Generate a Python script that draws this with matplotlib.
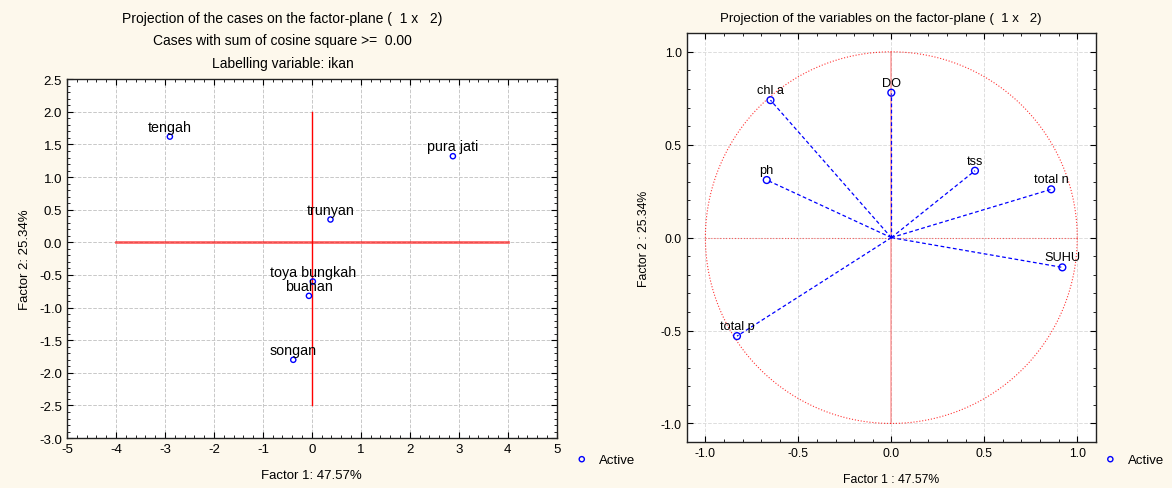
import numpy as np
import matplotlib.pyplot as plt
from matplotlib.ticker import MultipleLocator

plt.rcParams['font.family'] = ['Liberation Sans', 'DejaVu Sans']
plt.rcParams['axes.unicode_minus'] = False

# cases (factor scores)
case_names = ["tengah", "pura jati", "trunyan", "toya bungkah", "buahan", "songan"]
case_f1 = [-2.90, 2.88, 0.38, 0.02, -0.06, -0.38]
case_f2 = [1.62, 1.32, 0.35, -0.60, -0.82, -1.80]

# variables (factor loadings)
var_names = ["chl a", "DO", "ph", "tss", "total n", "SUHU", "total p"]
var_f1 = [-0.65, 0.00, -0.67, 0.45, 0.86, 0.92, -0.83]
var_f2 = [0.74, 0.78, 0.31, 0.36, 0.26, -0.16, -0.53]

bg = "#fdf8ec"
fig = plt.figure(figsize=(11.72, 4.89), dpi=100, facecolor=bg)


def style_axes(ax):
    ax.tick_params(which="both", direction="in", top=True, right=True, labelsize=9.5, length=4)
    ax.tick_params(which="minor", length=2)
    ax.grid(True, which="major", color="#c8c8c8", linestyle="--", linewidth=0.7)
    for s in ax.spines.values():
        s.set_linewidth(1.0)
        s.set_color("#222222")
    ax.set_axisbelow(True)


# ---- left: cases
ax1 = fig.add_axes([0.0572, 0.102, 0.4178, 0.734])
style_axes(ax1)
ax1.plot([-4, 4], [0, 0], color="red", alpha=0.6, linewidth=2, zorder=2)
ax1.plot([0, 0], [-2.5, 2.0], color="red", linewidth=1, zorder=2)
ax1.scatter(case_f1, case_f2, s=14, facecolors="none", edgecolors="blue", linewidths=1, zorder=3)
for name, x, y in zip(case_names, case_f1, case_f2):
    ax1.annotate(name, (x, y), xytext=(0, 2), textcoords="offset points",
                 ha="center", va="bottom", fontsize=10.3, zorder=4)
ax1.set_xlim(-5, 5)
ax1.set_ylim(-3.0, 2.5)
ax1.xaxis.set_major_locator(MultipleLocator(1))
ax1.xaxis.set_minor_locator(MultipleLocator(0.2))
ax1.yaxis.set_major_locator(MultipleLocator(0.5))
ax1.yaxis.set_minor_locator(MultipleLocator(0.1))
ax1.yaxis.set_major_formatter(plt.FormatStrFormatter("%.1f"))
ax1.set_xlabel("Factor 1: 47.57%", fontsize=9.5, labelpad=10)
ax1.set_ylabel("Factor 2: 25.34%", fontsize=9.5, labelpad=6)
ax1.set_title("Projection of the cases on the factor-plane (  1 x   2)\n"
              "Cases with sum of cosine square >=  0.00\n"
              "Labelling variable: ikan", fontsize=10, linespacing=1.75, pad=9,
              x=0.44)

# ---- right: variables
ax2 = fig.add_axes([0.586, 0.094, 0.349, 0.836])
style_axes(ax2)
ax2.grid(True, which="major", color="#dddddd", linestyle="--", linewidth=0.7)
t = np.linspace(0, 2 * np.pi, 400)
ax2.plot(np.cos(t), np.sin(t), color="red", linestyle=":", linewidth=0.8, alpha=0.8, zorder=2)
ax2.plot([-1, 1], [0, 0], color="red", linestyle=":", linewidth=0.8, alpha=0.6, zorder=2)
ax2.plot([0, 0], [-1, 1], color="red", linestyle="-", linewidth=1.2, alpha=0.35, zorder=2)
for x, y in zip(var_f1, var_f2):
    ax2.plot([0, x], [0, y], color="blue", linestyle="--", linewidth=0.9, dashes=(3, 2), zorder=3)
ax2.scatter(var_f1, var_f2, s=24, facecolors="none", edgecolors="blue", linewidths=1, zorder=4)
for name, x, y in zip(var_names, var_f1, var_f2):
    ax2.annotate(name, (x, y), xytext=(0, 3), textcoords="offset points",
                 ha="center", va="bottom", fontsize=9.2, zorder=5)
ax2.set_xlim(-1.1, 1.1)
ax2.set_ylim(-1.1, 1.1)
ax2.xaxis.set_major_locator(MultipleLocator(0.5))
ax2.xaxis.set_minor_locator(MultipleLocator(0.1))
ax2.yaxis.set_major_locator(MultipleLocator(0.5))
ax2.yaxis.set_minor_locator(MultipleLocator(0.1))
ax2.xaxis.set_major_formatter(plt.FormatStrFormatter("%.1f"))
ax2.yaxis.set_major_formatter(plt.FormatStrFormatter("%.1f"))
ax2.tick_params(labelsize=8.8)
ax2.set_xlabel("Factor 1 : 47.57%", fontsize=8.8, labelpad=10)
ax2.set_ylabel("Factor 2 : 25.34%", fontsize=8.8, labelpad=8)
ax2.set_title("Projection of the variables on the factor-plane (  1 x   2)", fontsize=9.5, pad=9,
              x=0.475)

# legends
for ax, anchor in [(ax1, (0.475, 0.095)), (ax2, (0.926, 0.095))]:
    h = ax.scatter([], [], s=14, facecolors="none", edgecolors="blue", linewidths=1, label="Active")
    fig.legend(handles=[h], loc="upper left", bbox_to_anchor=anchor, frameon=False,
               fontsize=9.5, handletextpad=0.3, markerscale=1)

fig.savefig("out.png", dpi=100, facecolor=bg)
